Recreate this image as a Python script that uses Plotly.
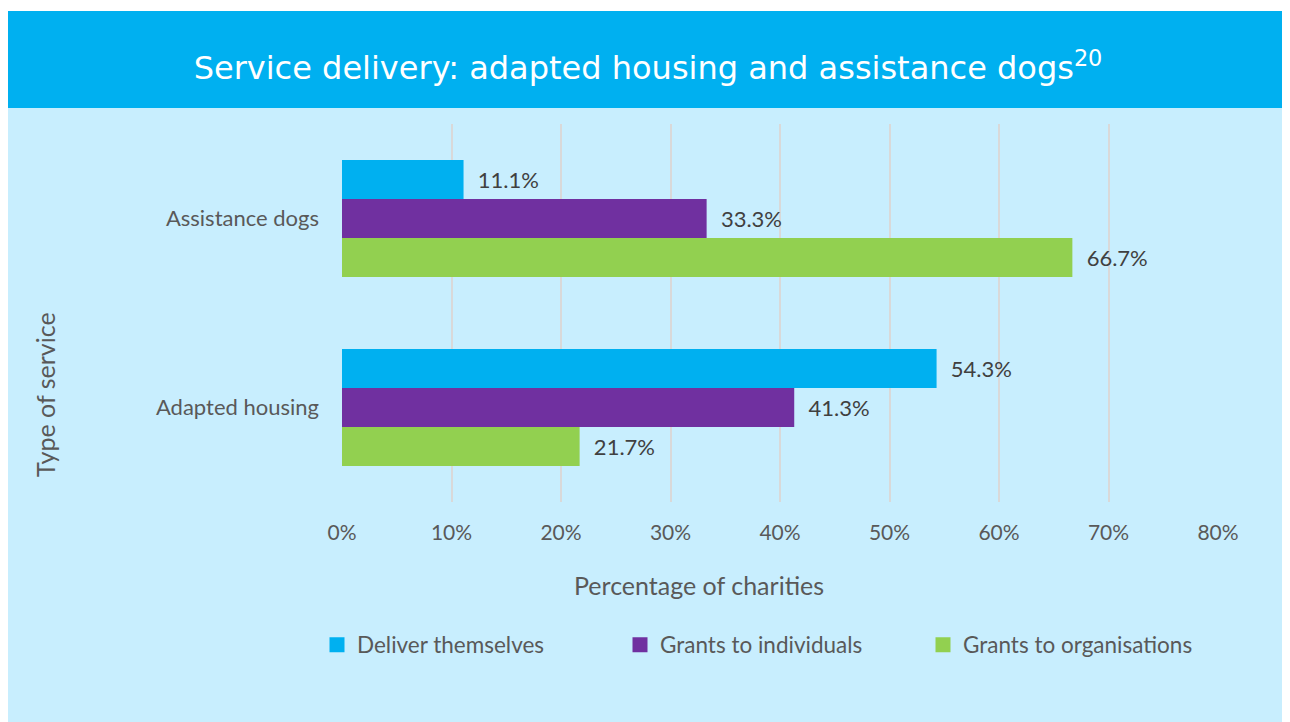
import plotly.graph_objects as go

categories = ["Adapted housing", "Assistance dogs"]
series_names = ["Deliver themselves", "Grants to individuals", "Grants to organisations"]
deliver_themselves = [54.3, 11.1]
grants_individuals = [41.3, 33.3]
grants_organisations = [21.7, 66.7]
colors = ["#00B0F0", "#7030A0", "#92D050"]
x_ticks = [0, 10, 20, 30, 40, 50, 60, 70, 80]
x_ticklabels = [f"{v}%" for v in x_ticks]

values = [deliver_themselves, grants_individuals, grants_organisations]

W, H = 1290, 722
OFF = 8  # page body margin
L, R, T, B = 342 - OFF, 1290 - (1218 - OFF), 124 - OFF, 722 - (502 - OFF)
pw, ph = W - L - R, H - T - B

def px_x(p):  # screen px -> paper
    return (p - OFF - L) / pw

def px_y(p):
    return (H - B - (p - OFF)) / ph

FONT = "Lato"
fig = go.Figure()
# add in reverse so first series appears on top within each group
for i in [2, 1, 0]:
    fig.add_trace(go.Bar(
        y=categories, x=values[i], name=series_names[i], orientation="h",
        marker=dict(color=colors[i], line=dict(width=0)),
        text=values[i], texttemplate="\u00a0\u00a0%{x:.1f}%", textposition="outside",
        textfont=dict(family=FONT, size=22, color="#404040"),
        cliponaxis=False, showlegend=False,
    ))
# legend entries
for i in range(3):
    fig.add_trace(go.Scatter(
        x=[None], y=[None], mode="markers", name=series_names[i],
        marker=dict(symbol="square", size=15, color=colors[i]),
        showlegend=True, legendrank=i + 1,
    ))

shapes = [
    dict(type="rect", xref="paper", yref="paper", x0=px_x(6), x1=px_x(1300), y0=px_y(722), y1=px_y(108),
         fillcolor="#C8EEFE", line=dict(width=0), layer="below"),
    dict(type="rect", xref="paper", yref="paper", x0=px_x(6), x1=px_x(1300), y0=px_y(108), y1=px_y(11),
         fillcolor="#00B0F0", line=dict(width=0), layer="below"),
]

annotations = [
    dict(text="Percentage of charities", xref="paper", yref="paper", x=px_x(699), y=px_y(585),
         xanchor="center", yanchor="middle", showarrow=False,
         font=dict(family=FONT, size=25, color="#595959")),
    dict(text="Type of service", xref="paper", yref="paper", x=px_x(45), y=px_y(395),
         xanchor="center", yanchor="middle", showarrow=False, textangle=-90,
         font=dict(family=FONT, size=25, color="#595959")),
]

fig.update_layout(
    width=W, height=H,
    margin=dict(l=L, r=R, t=T, b=B, autoexpand=False),
    paper_bgcolor="white", plot_bgcolor="rgba(0,0,0,0)",
    shapes=shapes, annotations=annotations,
    barmode="group", bargap=0.38, bargroupgap=0,
    title=dict(text="Service delivery: adapted housing and assistance dogs<sup>20</sup>",
               x=(648 - OFF) / W, xanchor="center", y=1 - (68 - OFF) / H, yanchor="middle",
               font=dict(family="DejaVu Sans", size=32, color="white")),
    xaxis=dict(range=[0, 80], tickvals=x_ticks, ticktext=x_ticklabels,
               showgrid=True, gridcolor="#D9D9D9", gridwidth=2, zeroline=False, showline=False,
               ticks="", ticklabelstandoff=16,
               tickfont=dict(family=FONT, size=21, color="#595959")),
    yaxis=dict(range=[-0.5, 1.5], showgrid=False, zeroline=False, showline=False, ticks="",
               ticklabelstandoff=22,
               tickfont=dict(family=FONT, size=22, color="#595959")),
    legend=dict(orientation="h", x=px_x(317), xanchor="left", y=px_y(645), yanchor="middle",
                bgcolor="rgba(0,0,0,0)", entrywidth=258, itemwidth=30, traceorder="normal",
                font=dict(family=FONT, size=22.5, color="#595959")),
    showlegend=True,
)

fig.write_html("out.html")
